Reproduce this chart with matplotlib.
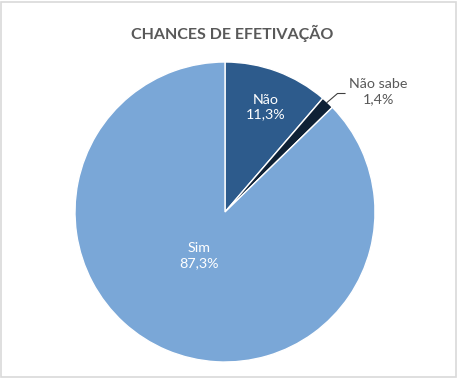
import matplotlib
matplotlib.use("Agg")
import matplotlib.pyplot as plt
from matplotlib.patches import Rectangle

categories = ["Não", "Não sabe", "Sim"]
values = [11.3, 1.4, 87.3]
labels = ["11,3%", "1,4%", "87,3%"]
colors = ["#2D5B8C", "#0F2135", "#7AA7D7"]

plt.rcParams['font.family'] = ['Lato', 'DejaVu Sans']

fig = plt.figure(figsize=(4.62, 3.82), dpi=100)
fig.patches.append(Rectangle((0.003, 0.013), 0.985, 0.982, transform=fig.transFigure,
                             fill=False, edgecolor="#D9D9D9", linewidth=1.2))
ax = fig.add_axes([75/462, 20/382, 300/462, 300/382])
wedges, _ = ax.pie(values, colors=colors, startangle=90, counterclock=False,
                   wedgeprops=dict(edgecolor="white", linewidth=1.0), radius=1.0)
ax.set_xlim(-1, 1)
ax.set_ylim(-1, 1)
ax.set_aspect("equal")
ax.axis("off")

# Labels
ax.text(0.27, 0.70, f"{categories[0]}\n{labels[0]}", color="white", ha="center", va="center",
        fontsize=10.3, linespacing=1.3)
ax.text(-0.17, -0.29, f"{categories[2]}\n{labels[2]}", color="white", ha="center", va="center",
        fontsize=10.3, linespacing=1.3)
ax.text(1.02, 0.80, f"{categories[1]}\n{labels[1]}", color="#595959", ha="center", va="center",
        fontsize=10.3, linespacing=1.3)
ax.plot([0.68, 0.75, 0.80], [0.73, 0.79, 0.79], color="#404040", lw=0.8, clip_on=False)

fig.text(232/462, 1 - 33/382, "CHANCES DE EFETIVAÇÃO", ha="center", va="center",
         fontsize=11.5, fontweight="bold", color="#595959")

fig.savefig("out.png", dpi=100)
